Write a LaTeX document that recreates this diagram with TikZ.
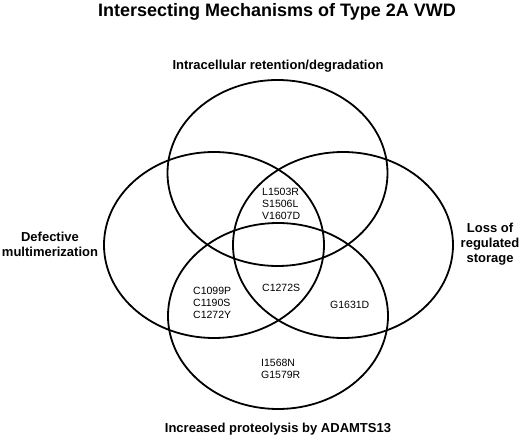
\documentclass[tikz,border=0pt]{standalone}
\usepackage{fontspec}
\setmainfont{Liberation Sans}
\usetikzlibrary{shapes.geometric}
\begin{document}
\begin{tikzpicture}[x=1pt,y=-1pt,
  set/.style={ellipse,draw,line width=1.8pt,minimum width=220pt,minimum height=186pt,inner sep=0pt},
  title/.style={font=\fontsize{18}{20}\selectfont\bfseries,inner sep=0pt,anchor=base},
  setlabel/.style={font=\fontsize{13}{15}\selectfont\bfseries,inner sep=0pt,align=center},
  mut/.style={font=\fontsize{10.5}{12.3}\selectfont,inner sep=0pt,align=left,anchor=west}]
\useasboundingbox (0,0) rectangle (520,438);
% sets
\node[set] (top) at (277.5,173) {};
\node[set] (left) at (214,245) {};
\node[set] (right) at (343,245) {};
\node[set] (bottom) at (278,316) {};
% title and set labels
\node[title] (ttl) at (277,16.5) {Intersecting Mechanisms of Type 2A VWD};
\node[setlabel,anchor=base] (ltop) at (278,70) {Intracellular retention/degradation};
\node[setlabel] (lleft) at (50,244.75) {Defective\\multimerization};
\node[setlabel] (lright) at (490,244.6) {Loss of\\regulated\\storage};
\node[setlabel,anchor=base] (lbottom) at (278,433) {Increased proteolysis by ADAMTS13};
% mutations
\node[mut] (m1) at (262,204) {L1503R\\S1506L\\V1607D};
\node[mut] (m2) at (193,302.75) {C1099P\\C1190S\\C1272Y};
\node[mut] (m3) at (262,288.25) {C1272S};
\node[mut] (m4) at (330,305) {G1631D};
\node[mut] (m5) at (261,369.1) {I1568N\\G1579R};
\end{tikzpicture}
\end{document}
